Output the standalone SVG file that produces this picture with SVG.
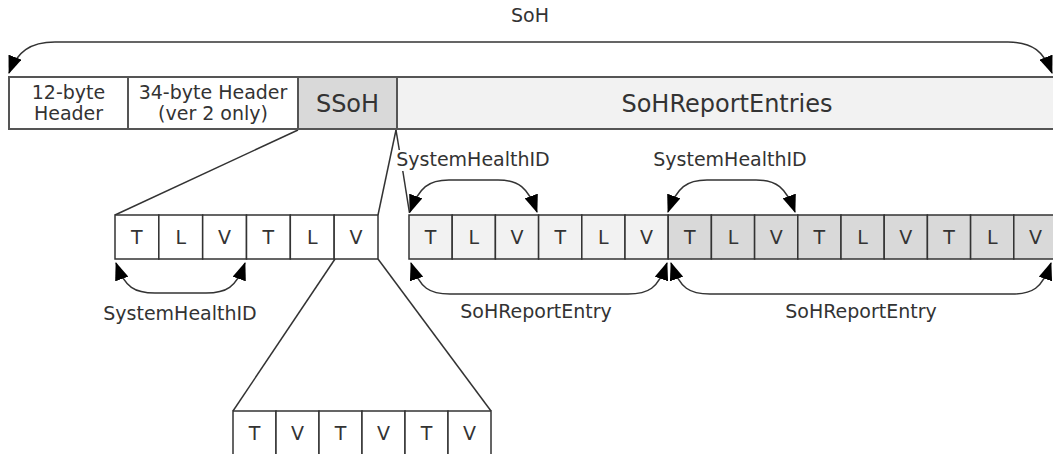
<svg xmlns="http://www.w3.org/2000/svg" width="1053" height="454" viewBox="0 0 1053 454">
<style>
text{font-family:"DejaVu Sans","Verdana",sans-serif;fill:#333;text-anchor:middle}
.lbl{font-size:19px}
.big{font-size:24px}
.cell{stroke:#333;stroke-width:1.5}
.w{fill:#fff}
.l{fill:#f2f2f2}
.d{fill:#d9d9d9}
.bar{stroke:#555;stroke-width:2}
.ln{stroke:#333;stroke-width:1.5;fill:none}
.arr{stroke:#333;stroke-width:1.5;fill:none;marker-start:url(#ah);marker-end:url(#ah)}
</style>
<defs>
<marker id="ah" markerUnits="userSpaceOnUse" viewBox="0 0 18 14" markerWidth="18" markerHeight="14" refX="17" refY="7" orient="auto-start-reverse">
<path d="M0,0 L18,7 L0,14 Z" fill="#000"/>
</marker>
</defs>
<rect width="1053" height="454" fill="#fff"/>

<g id="connectors">
<path class="arr" d="M9,73 C17,52 30,42 55,42 L1008,42 C1033,42 1044,52 1052,73"/>
<line class="ln" x1="298" y1="130" x2="115" y2="215"/>
<line class="ln" x1="396" y1="130" x2="378" y2="215"/>
<line class="ln" x1="396" y1="130" x2="399.3" y2="150"/>
<line class="ln" x1="402.8" y1="171" x2="409.5" y2="213"/>
<line class="ln" x1="335" y1="259" x2="233" y2="411"/>
<line class="ln" x1="378" y1="259" x2="491" y2="411"/>
<path class="arr" d="M116,263 C125,288 135,293 155,293 L206,293 C226,293 236,288 245,263"/>
<path class="arr" d="M410,212 C419,187 429,180 449,180 L498,180 C518,180 528,187 537,212"/>
<path class="arr" d="M668,212 C677,187 687,180 707,180 L756,180 C776,180 786,187 795,212"/>
<path class="arr" d="M411,263 C420,289 430,294 450,294 L628,294 C648,294 658,289 667,263"/>
<path class="arr" d="M671,263 C680,289 690,294 710,294 L1012,294 C1032,294 1042,289 1051,263"/>
</g>

<g id="soh-label"><text class="lbl" x="530" y="22">SoH</text></g>

<g id="header12">
<rect class="bar w" x="9" y="77" width="119" height="52"/>
<text class="lbl" x="68.5" y="99">12-byte</text>
<text class="lbl" x="68.5" y="120">Header</text>
</g>
<g id="header34">
<rect class="bar w" x="128" y="77" width="170" height="52"/>
<text class="lbl" x="213" y="99">34-byte Header</text>
<text class="lbl" x="213" y="120">(ver 2 only)</text>
</g>
<g id="ssoh">
<rect class="bar d" x="298" y="77" width="99" height="52"/>
<text class="big" x="347.5" y="112">SSoH</text>
</g>
<g id="sohreportentries">
<rect class="bar l" x="397" y="77" width="662" height="52"/>
<text class="big" x="727" y="112">SoHReportEntries</text>
</g>

<g id="ssoh-tlv">
<rect class="cell w" x="115" y="215" width="43.83" height="44"/>
<rect class="cell w" x="158.83" y="215" width="43.83" height="44"/>
<rect class="cell w" x="202.67" y="215" width="43.83" height="44"/>
<rect class="cell w" x="246.5" y="215" width="43.83" height="44"/>
<rect class="cell w" x="290.33" y="215" width="43.83" height="44"/>
<rect class="cell w" x="334.17" y="215" width="43.83" height="44"/>
<text class="lbl" x="136.9" y="244">T</text>
<text class="lbl" x="180.7" y="244">L</text>
<text class="lbl" x="224.6" y="244">V</text>
<text class="lbl" x="268.4" y="244">T</text>
<text class="lbl" x="312.2" y="244">L</text>
<text class="lbl" x="356.1" y="244">V</text>
</g>
<g id="ssoh-shid-label"><text class="lbl" x="180" y="320">SystemHealthID</text></g>

<g id="entry1">
<rect class="cell l" x="409" y="215" width="43.2" height="44"/>
<rect class="cell l" x="452.2" y="215" width="43.2" height="44"/>
<rect class="cell l" x="495.4" y="215" width="43.2" height="44"/>
<rect class="cell l" x="538.6" y="215" width="43.2" height="44"/>
<rect class="cell l" x="581.8" y="215" width="43.2" height="44"/>
<rect class="cell l" x="625" y="215" width="43.2" height="44"/>
<text class="lbl" x="430.6" y="244">T</text>
<text class="lbl" x="473.8" y="244">L</text>
<text class="lbl" x="517" y="244">V</text>
<text class="lbl" x="560.2" y="244">T</text>
<text class="lbl" x="603.4" y="244">L</text>
<text class="lbl" x="646.6" y="244">V</text>
<text class="lbl" x="473" y="166">SystemHealthID</text>
<text class="lbl" x="536" y="318">SoHReportEntry</text>
</g>

<g id="entry2">
<rect class="cell d" x="668.2" y="215" width="43.2" height="44"/>
<rect class="cell d" x="711.4" y="215" width="43.2" height="44"/>
<rect class="cell d" x="754.6" y="215" width="43.2" height="44"/>
<rect class="cell d" x="797.8" y="215" width="43.2" height="44"/>
<rect class="cell d" x="841" y="215" width="43.2" height="44"/>
<rect class="cell d" x="884.2" y="215" width="43.2" height="44"/>
<rect class="cell d" x="927.4" y="215" width="43.2" height="44"/>
<rect class="cell d" x="970.6" y="215" width="43.2" height="44"/>
<rect class="cell d" x="1013.8" y="215" width="43.2" height="44"/>
<text class="lbl" x="689.8" y="244">T</text>
<text class="lbl" x="733" y="244">L</text>
<text class="lbl" x="776.2" y="244">V</text>
<text class="lbl" x="819.4" y="244">T</text>
<text class="lbl" x="862.6" y="244">L</text>
<text class="lbl" x="905.8" y="244">V</text>
<text class="lbl" x="949" y="244">T</text>
<text class="lbl" x="992.2" y="244">L</text>
<text class="lbl" x="1035.4" y="244">V</text>
<text class="lbl" x="730" y="166">SystemHealthID</text>
<text class="lbl" x="861" y="318">SoHReportEntry</text>
</g>

<g id="tv-row">
<rect class="cell w" x="233" y="411" width="43" height="46"/>
<rect class="cell w" x="276" y="411" width="43" height="46"/>
<rect class="cell w" x="319" y="411" width="43" height="46"/>
<rect class="cell w" x="362" y="411" width="43" height="46"/>
<rect class="cell w" x="405" y="411" width="43" height="46"/>
<rect class="cell w" x="448" y="411" width="43" height="46"/>
<text class="lbl" x="254.5" y="440">T</text>
<text class="lbl" x="297.5" y="440">V</text>
<text class="lbl" x="340.5" y="440">T</text>
<text class="lbl" x="383.5" y="440">V</text>
<text class="lbl" x="426.5" y="440">T</text>
<text class="lbl" x="469.5" y="440">V</text>
</g>
</svg>
